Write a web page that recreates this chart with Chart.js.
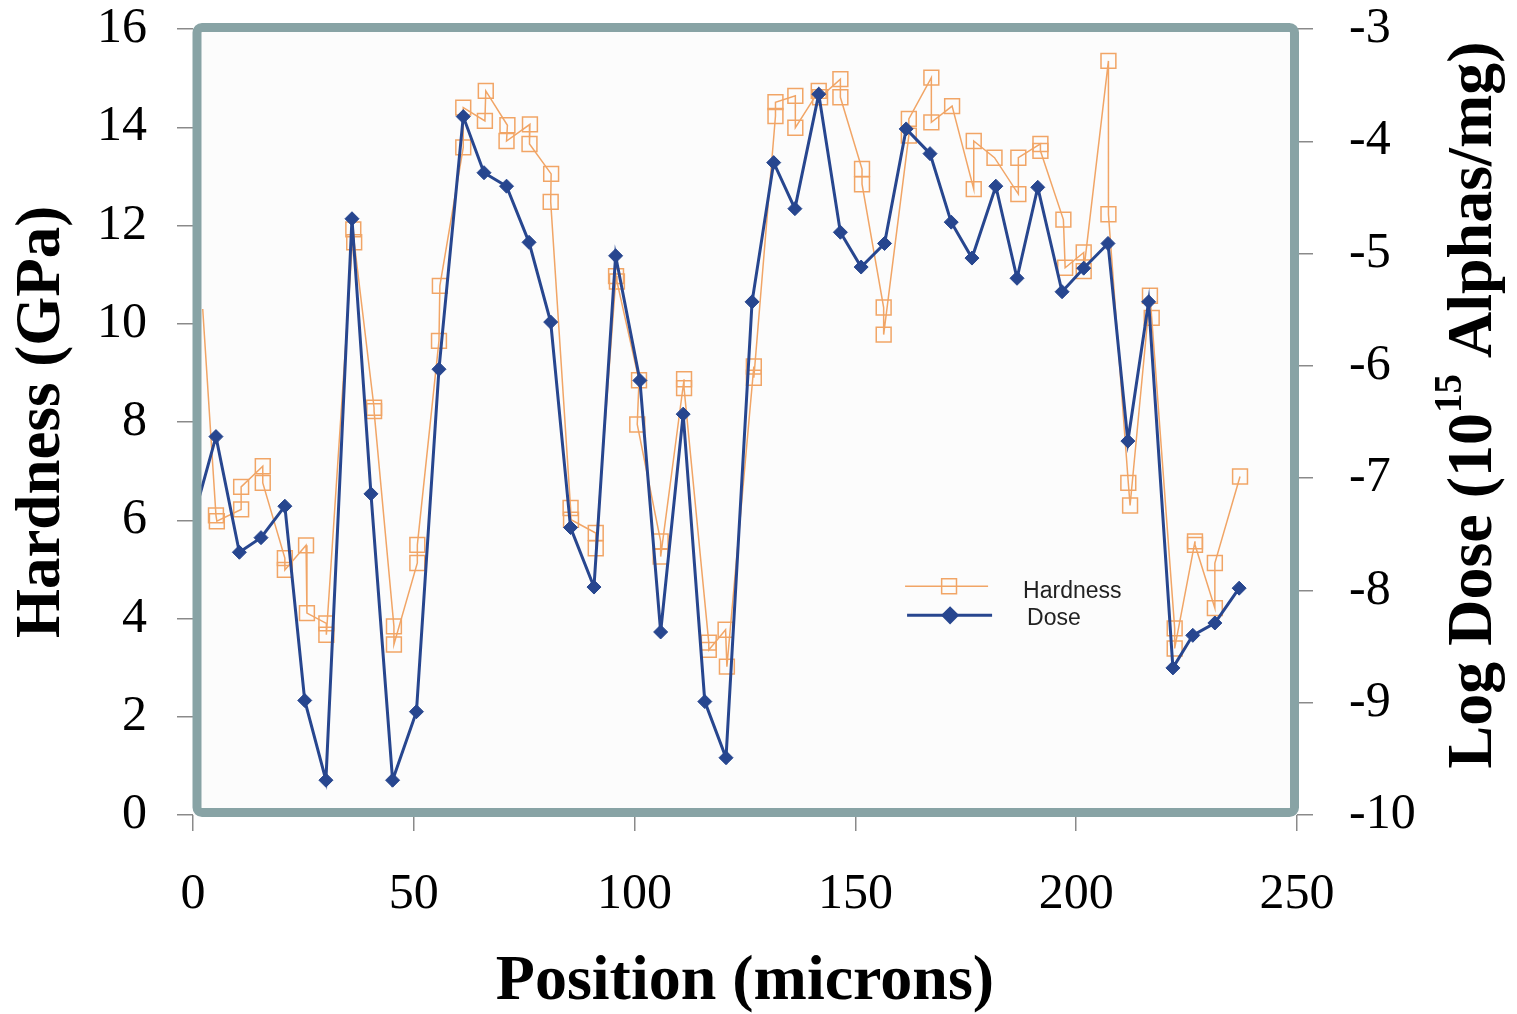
<!DOCTYPE html>
<html>
<head>
<meta charset="utf-8">
<title>Hardness and dose along the sample</title>
<script src="https://cdn.jsdelivr.net/npm/chart.js@4.4.1/dist/chart.umd.min.js"></script>
<style>
  html, body { margin: 0; padding: 0; background: #fff; }
  #wrap { width: 1517px; height: 1014px; }
</style>
</head>
<body>
<div id="wrap"><canvas id="hardChart" width="1517" height="1014"></canvas></div>
<script>
// hardness indents (GPa) vs position (microns), usually two indents per station
const hardnessPos = [2.2, 5.2, 5.4, 10.9, 10.9, 15.8, 15.8, 20.8, 20.8, 25.6, 25.8, 30.2, 30.2,
  36.3, 36.5, 41.0, 41.0, 45.5, 45.5, 50.8, 50.8, 55.7, 55.9, 61.2, 61.2, 66.1, 66.3,
  71.2, 71.0, 76.3, 76.2, 81.1, 81.0, 85.5, 85.6, 91.2, 91.2, 95.8, 96.0, 101.0, 100.6,
  105.9, 105.9, 111.2, 111.2, 116.8, 116.8, 120.6, 120.9, 127.0, 127.0, 131.9, 131.9,
  136.4, 136.4, 141.7, 142.0, 146.6, 146.6, 151.5, 151.5, 156.4, 156.4, 162.1, 162.1,
  167.2, 167.2, 171.9, 176.8, 176.8, 181.5, 186.9, 186.9, 191.9, 191.9, 197.1, 197.5,
  201.7, 201.7, 207.3, 207.3, 211.8, 212.2, 216.7, 217.1, 222.3, 222.3, 226.9, 226.9,
  231.4, 231.4, 237.1];
const hardnessVal = [10.3, 6.10, 5.98, 6.22, 6.68, 7.10, 6.76, 5.23, 4.99, 5.49, 4.11, 3.90, 3.67,
  11.92, 11.66, 8.29, 8.22, 3.84, 3.47, 5.13, 5.50, 9.65, 10.77, 13.59, 14.40, 14.13, 14.74,
  14.04, 13.72, 14.06, 13.66, 13.05, 12.48, 6.25, 6.01, 5.74, 5.43, 10.97, 10.86, 8.85, 7.95,
  5.57, 5.26, 8.87, 8.69, 3.51, 3.36, 3.77, 3.02, 9.13, 8.90, 14.23, 14.51,
  14.64, 13.99, 14.74, 14.61, 14.98, 14.61, 13.15, 12.84, 10.33, 9.78, 13.83, 14.17,
  15.01, 14.10, 14.43, 12.74, 13.72, 13.38, 12.64, 13.38, 13.66, 13.52, 12.12, 11.14,
  11.45, 11.07, 15.35, 12.23, 6.76, 6.30, 10.57, 10.12, 3.80, 3.39, 5.57, 5.50,
  4.21, 5.13, 6.89];

// log dose (10^15 alphas/mg) vs position (microns)
const dosePos = [0.5, 5.2, 10.5, 15.4, 20.8, 25.3, 30.1, 36.0, 40.3, 45.2, 50.6, 55.7,
  61.2, 65.9, 71.0, 76.1, 81.0, 85.5, 90.8, 95.7, 101.2, 105.9, 111.0, 115.9,
  120.7, 126.6, 131.5, 136.3, 141.7, 146.6, 151.3, 156.6, 161.5, 166.9, 171.7, 176.4,
  181.8, 186.6, 191.3, 196.8, 201.7, 207.2, 211.7, 216.4, 221.9, 226.4, 231.4, 236.9];
const doseVal = [-7.30, -6.63, -7.66, -7.53, -7.25, -8.98, -9.69, -4.69, -7.14, -9.69, -9.08, -6.03,
  -3.78, -4.28, -4.40, -4.90, -5.61, -7.44, -7.97, -5.02, -6.13, -8.37, -6.43, -8.99,
  -9.49, -5.43, -4.19, -4.60, -3.58, -4.81, -5.12, -4.91, -3.89, -4.11, -4.72, -5.04,
  -4.40, -5.22, -4.41, -5.34, -5.13, -4.91, -6.67, -5.43, -8.69, -8.40, -8.29, -7.98];

const xTicks = [0, 50, 100, 150, 200, 250];

const hardColor = '#f1a566';
const doseColor = '#27468f';
const frameColor = '#88a3a5';
const serif = "'Liberation Serif', 'Times New Roman', serif";

function toPoints(xs, ys) {
  let pts = [];
  for (let i = 0; i < xs.length; i++) {
    pts.push({x: xs[i], y: ys[i]});
  }
  return pts;
}

// first point of each series sits under the frame, so no marker there
function markerSize(size) {
  return function(ctx) { return ctx.dataIndex === 0 ? 0 : size; };
}

// vertical axes: fixed width, and don't push the plot down for the top label
function fixWidth(w) {
  return function(s) {
    s.width = w;
    s.paddingTop = 0;
    s.paddingBottom = 0;
  };
}

// paper background + thick rounded frame round the plot
const framePlugin = {
  id: 'frameBox',
  beforeDraw(chart) {
    const {ctx, chartArea: a} = chart;
    ctx.save();
    ctx.fillStyle = '#ffffff';
    ctx.fillRect(0, 0, chart.width, chart.height);
    ctx.fillStyle = '#fcfcfc';
    ctx.fillRect(a.left, a.top, a.right - a.left, a.bottom - a.top);
    ctx.restore();
  },
  afterDatasetsDraw(chart) {
    const {ctx, chartArea: a} = chart;
    ctx.save();
    ctx.strokeStyle = frameColor;
    ctx.lineWidth = 9;
    ctx.beginPath();
    ctx.roundRect(a.left + 4, a.top - 1.5, a.right - a.left - 6.5, a.bottom - a.top - 1, 5);
    ctx.stroke();
    ctx.restore();
  }
};

// small legend inside the plot, lower right
const legendPlugin = {
  id: 'insetLegend',
  afterDraw(chart) {
    const {ctx, chartArea: a} = chart;
    const x0 = a.left + (a.right - a.left) * 0.645;
    const y0 = a.top + (a.bottom - a.top) * 0.709;
    ctx.save();
    ctx.lineWidth = 1.5;
    ctx.strokeStyle = hardColor;
    ctx.fillStyle = 'rgba(0,0,0,0)';
    ctx.beginPath();
    ctx.moveTo(x0, y0);
    ctx.lineTo(x0 + 83, y0);
    ctx.stroke();
    Chart.helpers.drawPoint(ctx, {pointStyle: 'rect', radius: 10.5, borderWidth: 1.5}, x0 + 44, y0);

    ctx.lineWidth = 3;
    ctx.strokeStyle = doseColor;
    ctx.fillStyle = doseColor;
    ctx.beginPath();
    ctx.moveTo(x0 + 2, y0 + 29);
    ctx.lineTo(x0 + 87, y0 + 29);
    ctx.stroke();
    Chart.helpers.drawPoint(ctx, {pointStyle: 'rectRot', radius: 7, borderWidth: 1}, x0 + 45, y0 + 29);

    ctx.fillStyle = '#222';
    ctx.font = "23px 'Liberation Sans', Arial, sans-serif";
    ctx.textBaseline = 'alphabetic';
    ctx.fillText('Hardness', x0 + 118, y0 + 12);
    ctx.fillText('Dose', x0 + 122, y0 + 39);
    ctx.restore();
  }
};

// right axis title, read bottom to top, with a real superscript
const rightTitlePlugin = {
  id: 'rightTitle',
  afterDraw(chart) {
    const ctx = chart.ctx;
    const a = chart.chartArea;
    const big = "bold 64px " + serif;
    const small = "bold 39px " + serif;
    const parts = [['Log Dose (10', big, 0], ['15', small, -23], [' Alphas/mg)', big, 0]];
    ctx.save();
    let total = 0;
    parts.forEach(p => { ctx.font = p[1]; total += ctx.measureText(p[0]).width; });
    ctx.translate(1474, (a.top + a.bottom) / 2 - 17);
    ctx.rotate(-Math.PI / 2);
    ctx.fillStyle = '#000';
    ctx.textBaseline = 'middle';
    let x = -total / 2;
    parts.forEach(p => {
      ctx.font = p[1];
      ctx.fillText(p[0], x, p[2]);
      x += ctx.measureText(p[0]).width;
    });
    ctx.restore();
  }
};

const tickFont = {family: serif, size: 50};
const tickGrid = {drawOnChartArea: false, drawTicks: true, tickLength: 16, color: '#8a8a8a', lineWidth: 1.5};

const config = {
  type: 'line',
  data: {
    datasets: [
      {
        label: 'Dose',
        data: toPoints(dosePos, doseVal),
        yAxisID: 'y1',
        borderColor: doseColor,
        backgroundColor: doseColor,
        borderWidth: 3,
        pointStyle: 'rectRot',
        pointRadius: markerSize(7),
        pointBorderWidth: 1,
        tension: 0,
        order: 0
      },
      {
        label: 'Hardness',
        data: toPoints(hardnessPos, hardnessVal),
        yAxisID: 'y',
        borderColor: hardColor,
        backgroundColor: 'rgba(0,0,0,0)',
        borderWidth: 1.5,
        pointStyle: 'rect',
        pointRadius: markerSize(10.5),
        pointBorderWidth: 1.5,
        tension: 0,
        order: 1
      }
    ]
  },
  options: {
    responsive: false,
    animation: false,
    layout: {padding: {top: 29, left: 0, right: 0, bottom: 0}},
    plugins: {
      legend: {display: false},
      tooltip: {enabled: false}
    },
    scales: {
      x: {
        type: 'linear',
        min: 0, max: 250,
        afterBuildTicks: (s) => { s.ticks = xTicks.map(v => ({value: v})); },
        afterFit: (s) => { s.height = 199; },
        grid: tickGrid,
        border: {display: false},
        ticks: {font: tickFont, color: '#000', padding: 34, maxRotation: 0},
        title: {
          display: true, text: 'Position (microns)', color: '#000',
          font: {family: serif, size: 64, weight: 'bold', lineHeight: 1},
          padding: {top: 0, bottom: 0}
        }
      },
      y: {
        position: 'left',
        min: 0, max: 16,
        afterFit: fixWidth(193),
        grid: tickGrid,
        border: {display: false},
        ticks: {stepSize: 2, font: tickFont, color: '#000', padding: 30},
        title: {
          display: true, text: 'Hardness (GPa)', color: '#000',
          font: {family: serif, size: 63, weight: 'bold', lineHeight: 1},
          padding: {top: 11, bottom: 0}
        }
      },
      y1: {
        position: 'right',
        min: -10, max: -3,
        afterFit: fixWidth(220),
        grid: tickGrid,
        border: {display: false},
        ticks: {stepSize: 1, font: tickFont, color: '#000', padding: 36}
      }
    }
  },
  plugins: [framePlugin, legendPlugin, rightTitlePlugin]
};

const myChart = new Chart(document.getElementById('hardChart'), config);
</script>
</body>
</html>
